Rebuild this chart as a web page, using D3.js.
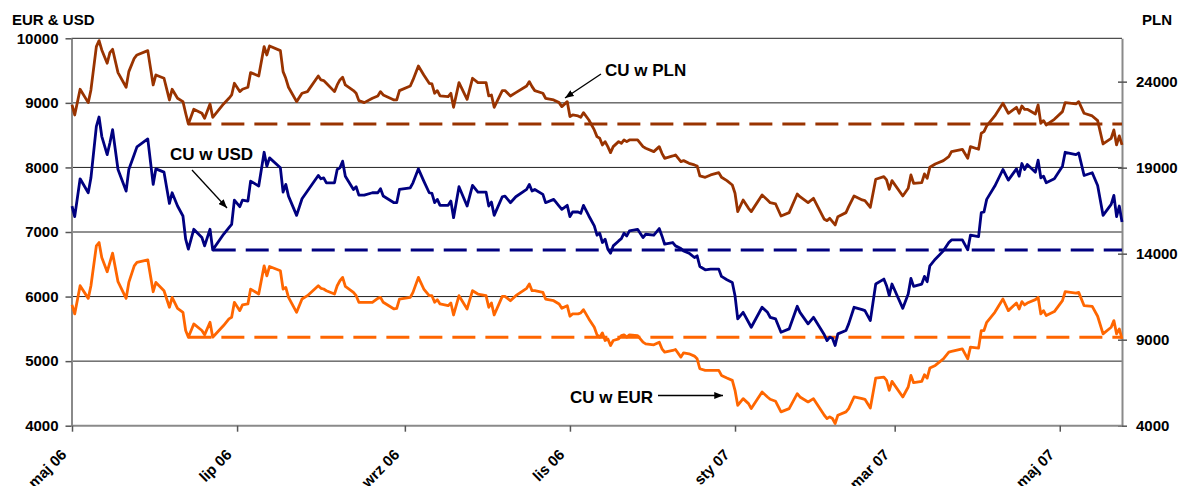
<!DOCTYPE html>
<html>
<head>
<meta charset="utf-8">
<script src="https://cdn.jsdelivr.net/npm/d3@7"></script>
<style>
  body { margin: 0; background: #fff; }
  svg { font-family: Arial, "Liberation Sans", sans-serif; font-weight: bold; }
</style>
</head>
<body>
<svg id="wykres" width="1189" height="486"></svg>
<script>
// notowania miedzi (CU) w trzech walutach
const daty = [
  "2006-05-01","2006-05-02","2006-05-04","2006-05-07","2006-05-08","2006-05-10","2006-05-11","2006-05-12","2006-05-14","2006-05-15",
  "2006-05-16","2006-05-18","2006-05-21","2006-05-22","2006-05-24","2006-05-25","2006-05-29","2006-05-31","2006-06-01","2006-06-04",
  "2006-06-06","2006-06-07","2006-06-09","2006-06-11","2006-06-12","2006-06-13","2006-06-15","2006-06-18","2006-06-19","2006-06-21",
  "2006-06-22","2006-06-26","2006-06-28","2006-06-29","2006-06-30","2006-07-02","2006-07-03","2006-07-05","2006-07-06","2006-07-09",
  "2006-07-11","2006-07-12","2006-07-13","2006-07-17","2006-07-18","2006-07-19","2006-07-20","2006-07-23","2006-07-25","2006-07-27",
  "2006-07-31","2006-08-01","2006-08-02","2006-08-03","2006-08-06","2006-08-07","2006-08-08","2006-08-09","2006-08-10","2006-08-13",
  "2006-08-14","2006-08-15","2006-08-17","2006-08-20","2006-08-22","2006-08-23","2006-08-24","2006-08-28","2006-08-29","2006-08-30",
  "2006-09-03","2006-09-04","2006-09-06","2006-09-08","2006-09-10","2006-09-11","2006-09-12","2006-09-13","2006-09-14","2006-09-17",
  "2006-09-18","2006-09-19","2006-09-21","2006-09-24","2006-09-26","2006-09-28","2006-10-01","2006-10-02","2006-10-03","2006-10-04",
  "2006-10-07","2006-10-08","2006-10-10","2006-10-12","2006-10-16","2006-10-17","2006-10-18","2006-10-19","2006-10-22","2006-10-23",
  "2006-10-26","2006-10-28","2006-10-29","2006-10-31","2006-11-01","2006-11-02","2006-11-04","2006-11-05","2006-11-06","2006-11-08",
  "2006-11-10","2006-11-11","2006-11-12","2006-11-13","2006-11-14","2006-11-15","2006-11-16","2006-11-17","2006-11-19","2006-11-20",
  "2006-11-21","2006-11-22","2006-11-23","2006-11-26","2006-11-28","2006-11-29","2006-12-02","2006-12-04","2006-12-05","2006-12-06",
  "2006-12-09","2006-12-10","2006-12-12","2006-12-13","2006-12-15","2006-12-17","2006-12-18","2006-12-19","2006-12-21","2006-12-23",
  "2006-12-26","2006-12-27","2006-12-29","2006-12-31","2007-01-01","2007-01-02","2007-01-04","2007-01-06","2007-01-07","2007-01-11",
  "2007-01-13","2007-01-14","2007-01-16","2007-01-18","2007-01-21","2007-01-24","2007-01-25","2007-01-28","2007-01-30","2007-02-03",
  "2007-02-04","2007-02-05","2007-02-06","2007-02-07","2007-02-08","2007-02-11","2007-02-12","2007-02-14","2007-02-17","2007-02-18",
  "2007-02-20","2007-02-22","2007-02-25","2007-02-26","2007-02-27","2007-02-28","2007-03-04","2007-03-06","2007-03-07","2007-03-08",
  "2007-03-11","2007-03-12","2007-03-13","2007-03-14","2007-03-16","2007-03-19","2007-03-21","2007-03-22","2007-03-26","2007-03-28",
  "2007-03-29","2007-04-01","2007-04-02","2007-04-03","2007-04-04","2007-04-07","2007-04-10","2007-04-12","2007-04-15","2007-04-16",
  "2007-04-17","2007-04-18","2007-04-19","2007-04-22","2007-04-23","2007-04-24","2007-04-25","2007-04-26","2007-04-29","2007-05-02",
  "2007-05-03","2007-05-07","2007-05-08","2007-05-10","2007-05-13","2007-05-15","2007-05-17","2007-05-20","2007-05-21","2007-05-22",
  "2007-05-23","2007-05-24"
];

const cuUsd = [
  7402,7238,7824,7608,7839,8637,8781,8482,8199,8379,
  8585,7968,7634,7968,8199,8318,8441,7737,7978,7927,
  7443,7608,7402,7248,6888,6734,7042,6914,6785,7042,
  6723,6965,7068,7119,7495,7392,7495,7479,7788,7711,
  8235,8019,8148,7994,7618,7737,7556,7258,7515,7634,
  7875,7824,7839,7762,7762,7968,7994,8097,7865,7659,
  7701,7572,7572,7608,7608,7670,7557,7454,7454,7659,
  7685,7762,7978,7788,7608,7598,7454,7505,7413,7413,
  7479,7222,7701,7402,7721,7618,7618,7402,7464,7258,
  7546,7557,7454,7546,7659,7737,7634,7659,7582,7454,
  7505,7402,7351,7413,7238,7310,7310,7289,7413,7248,
  7094,6950,6981,6837,6888,6734,6672,6785,6862,6898,
  6981,6939,7017,7042,6914,6965,6950,7053,6939,6811,
  6837,6785,6744,6708,6672,6605,6631,6466,6415,6425,
  6425,6312,6260,6219,6014,5654,5756,5602,5525,5834,
  5756,5679,5654,5448,5499,5849,5756,5577,5679,5407,
  5319,5371,5355,5242,5422,5474,5577,5834,5798,5782,
  5628,6194,6271,6168,6014,6194,5818,6039,6281,6158,
  6194,6312,6230,6477,6579,6708,6837,6878,6878,6723,
  6950,6929,7299,7310,7505,7711,7968,7803,7978,7865,
  8061,7968,8045,7927,8112,7839,7865,7762,7824,8020,
  8235,8199,8225,7875,7917,7721,7258,7428,7567,7238,
  7402,7155
];

const cuEur = [
  5870,5731,6168,5972,6168,6785,6836,6605,6384,6528,
  6672,6230,5972,6219,6476,6528,6569,6075,6219,6091,
  5834,5988,5818,5756,5474,5371,5576,5474,5407,5602,
  5371,5551,5654,5679,5911,5782,5870,5885,6116,6039,
  6476,6322,6466,6399,6116,6142,5988,5756,5962,6014,
  6168,6127,6117,6091,6039,6168,6245,6297,6158,6065,
  6014,5911,5911,5911,5972,5988,5911,5808,5818,5962,
  5988,6065,6297,6117,6014,6014,5911,5952,5885,5859,
  5900,5715,6014,5808,6091,6039,6014,5834,5900,5715,
  6003,6003,5936,6014,6127,6194,6091,6091,6065,5962,
  5936,5885,5818,5859,5695,5731,5731,5746,5798,5654,
  5525,5407,5371,5438,5319,5345,5242,5319,5345,5396,
  5407,5371,5407,5396,5294,5268,5252,5294,5191,5139,
  5165,5180,5062,5129,5114,5078,5036,4882,4856,4856,
  4856,4779,4738,4702,4548,4316,4419,4342,4265,4522,
  4445,4409,4378,4214,4265,4496,4445,4368,4419,4162,
  4111,4137,4111,4034,4162,4214,4265,4445,4419,4409,
  4275,4738,4753,4702,4548,4687,4445,4599,4779,4666,
  4687,4789,4738,4892,4934,5036,5139,5150,5191,5036,
  5216,5201,5474,5474,5602,5756,5962,5782,5900,5808,
  5921,5870,5900,5952,5988,5731,5782,5705,5767,5937,
  6075,6055,6065,5859,5849,5695,5422,5525,5628,5422,
  5499,5345
];

const cuPln = [
  22645,22064,23556,22781,23518,26037,26386,25843,25068,25688,
  25882,24525,23673,24583,25359,25552,25804,23808,24390,24196,
  22936,23556,23033,22839,22161,21541,22394,22161,21870,22704,
  21928,22704,23033,23227,23905,23421,23556,23673,24525,24332,
  26037,25552,26076,25804,24583,24196,23673,22839,23324,23421,
  24332,24099,24060,23905,23421,23808,24099,24254,23808,23479,
  23324,22897,22781,23033,23169,23421,23227,22936,22936,23479,
  23750,24099,24913,24390,23905,23866,23324,23479,23169,23130,
  23324,22510,23944,22975,24196,23944,23944,23169,23227,22510,
  23479,23479,23169,23363,23750,24002,23711,23479,23324,23033,
  22936,22781,22549,22839,21967,22064,22006,21928,22200,21773,
  21192,20804,20707,20320,20514,20223,19874,20223,20514,20417,
  20611,20514,20611,20611,20223,20126,19932,20223,19835,19545,
  19680,19739,19351,19409,19254,19157,19099,18518,18440,18576,
  18711,18440,18246,17994,17510,16444,17122,16638,16444,17413,
  17122,16967,16890,16192,16386,17471,17316,16967,17219,15998,
  15921,16056,15862,15669,16153,16386,16735,17355,17122,17084,
  16696,18324,18479,18285,17742,18246,17355,17800,18576,18091,
  18130,18634,18382,19021,19215,19409,19642,19932,20068,19545,
  20223,20068,20998,21095,21425,22006,22742,22161,22510,22161,
  22587,22394,22394,22122,22646,21580,21735,21483,21812,22258,
  22781,22704,22839,22161,22006,21735,20378,20708,21192,20320,
  20843,20320
];

const ticksLewa = [4000, 5000, 6000, 7000, 8000, 9000, 10000];
const ticksPrawa = [4000, 9000, 14000, 19000, 24000];
const ticksDaty = ["2006-05-01", "2006-07-01", "2006-09-01", "2006-11-01", "2007-01-01", "2007-03-01", "2007-05-01"];
const etykietyDat = ["maj 06", "lip 06", "wrz 06", "lis 06", "sty 07", "mar 07", "maj 07"];

const parseData = d3.timeParse("%Y-%m-%d");
const svg = d3.select("#wykres");

const lewo = 71.5, prawo = 1122, gora = 38.3, dol = 425.7;

const x = d3.scaleTime()
  .domain([parseData("2006-05-01"), parseData("2007-05-24")])
  .range([72, prawo]);
const yLewa = d3.scaleLinear().domain([4000, 10000]).range([dol, gora]);
const yPrawa = d3.scaleLinear().domain([4000, 26520]).range([dol, gora]);

const serie = [
  { nazwa: "pln", wartosci: cuPln, y: yPrawa, kolor: "#993300" },
  { nazwa: "usd", wartosci: cuUsd, y: yLewa, kolor: "#000080" },
  { nazwa: "eur", wartosci: cuEur, y: yLewa, kolor: "#FF6600" },
];

// linie siatki
svg.append("g")
  .selectAll("line")
  .data(ticksLewa.filter((t) => t > 4000))
  .join("line")
  .attr("x1", lewo)
  .attr("x2", prawo)
  .attr("y1", (d) => yLewa(d))
  .attr("y2", (d) => yLewa(d))
  .style("stroke", "#222")
  .style("stroke-width", 1);

// osie
let osLewa = svg.append("g")
  .attr("transform", `translate(${lewo},0)`)
  .call(d3.axisLeft(yLewa).tickValues(ticksLewa).tickSizeInner(6).tickSizeOuter(0).tickPadding(7).tickFormat(d3.format("d")));

let osPrawa = svg.append("g")
  .attr("transform", `translate(${prawo},0)`)
  .call(d3.axisRight(yPrawa).tickValues(ticksPrawa).tickSizeInner(5).tickSizeOuter(0).tickPadding(9).tickFormat(d3.format("d")));
osPrawa.selectAll(".tick line").attr("x1", -4);

let osDol = svg.append("g")
  .attr("transform", `translate(0,${dol})`)
  .call(d3.axisBottom(x).tickValues(ticksDaty.map(parseData)).tickSizeInner(6).tickSizeOuter(0)
    .tickFormat((d, i) => etykietyDat[i]));
osDol.select(".domain").attr("d", `M${lewo},0H${prawo}`);
osDol.selectAll("text")
  .attr("text-anchor", "end")
  .attr("x", 0)
  .attr("y", 0)
  .attr("dy", 0)
  .attr("transform", "translate(-5,30) rotate(-45)")
  .style("font-size", "15px");

[osLewa, osPrawa, osDol].forEach((os) => {
  os.select(".domain").style("stroke", "#8a8a8a").style("stroke-width", 2);
  os.selectAll(".tick line").style("stroke", "#555").style("stroke-width", 1.5);
  os.selectAll("text").style("fill", "#000").style("font-family", "Arial, 'Liberation Sans', sans-serif").style("font-weight", "bold");
});
osLewa.selectAll("text").style("font-size", "15px");
osPrawa.selectAll("text").style("font-size", "15px");

// poziomy wsparcia z czerwca 2006 (przerywane)
let ileCzerwiec = daty.filter((d) => d < "2006-07-01").length;
serie.forEach((s) => {
  let i = d3.minIndex(s.wartosci.slice(0, ileCzerwiec));
  svg.append("line")
    .attr("x1", x(parseData(daty[i])))
    .attr("x2", prawo)
    .attr("y1", s.y(s.wartosci[i]))
    .attr("y2", s.y(s.wartosci[i]))
    .style("stroke", s.kolor)
    .style("stroke-width", 3)
    .style("stroke-dasharray", "23,10");
});

// linie notowan
serie.forEach((s) => {
  let linia = d3.line()
    .x((d, i) => x(parseData(daty[i])))
    .y((d) => s.y(d));
  svg.append("path")
    .datum(s.wartosci)
    .attr("d", linia)
    .style("fill", "none")
    .style("stroke", s.kolor)
    .style("stroke-width", 2.8)
    .style("stroke-linejoin", "round");
});

// tytuly osi
svg.append("text").attr("x", 12).attr("y", 25).style("font-size", "15px").text("EUR & USD");
svg.append("text").attr("x", 1142).attr("y", 25).style("font-size", "15px").text("PLN");

// opisy ze strzalkami
svg.append("defs").append("marker")
  .attr("id", "grot")
  .attr("viewBox", "0 0 10 8")
  .attr("refX", 10)
  .attr("refY", 4)
  .attr("markerWidth", 9)
  .attr("markerHeight", 7)
  .attr("markerUnits", "userSpaceOnUse")
  .attr("orient", "auto")
  .append("path")
  .attr("d", "M0,0L10,4L0,8z")
  .style("fill", "#000");

const opisy = [
  { tekst: "CU w PLN", tx: 605, ty: 76, a: [601, 74, 565, 98] },
  { tekst: "CU w USD", tx: 170, ty: 160, a: [192, 170, 227, 208] },
  { tekst: "CU w EUR", tx: 570, ty: 403, a: [658, 395.5, 723, 395.5] },
];

opisy.forEach((o) => {
  svg.append("text")
    .attr("x", o.tx)
    .attr("y", o.ty)
    .style("font-size", "17px")
    .text(o.tekst);
  svg.append("line")
    .attr("x1", o.a[0]).attr("y1", o.a[1])
    .attr("x2", o.a[2]).attr("y2", o.a[3])
    .style("stroke", "#000")
    .style("stroke-width", 1.3)
    .attr("marker-end", "url(#grot)");
});
</script>
</body>
</html>
